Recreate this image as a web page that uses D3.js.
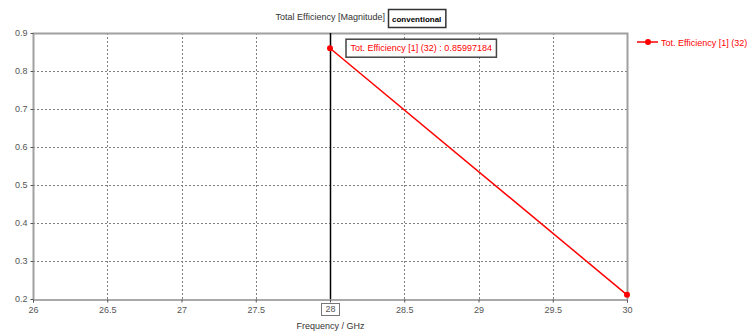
<!DOCTYPE html>
<html>
<head>
<meta charset="utf-8">
<script src="https://cdn.jsdelivr.net/npm/d3@7/dist/d3.min.js"></script>
<style>
  html, body { margin: 0; padding: 0; background: #fff; }
  svg { display: block; }
  text { font-family: "Liberation Sans", "DejaVu Sans", sans-serif; }
</style>
</head>
<body>
<svg id="chart" width="752" height="333"></svg>
<script>
// Total efficiency of the conventional design versus frequency
const frequencies = [28, 30];            // GHz
const efficiency  = [0.85997184, 0.211]; // magnitude
const xTicks = [26, 26.5, 27, 27.5, 28, 28.5, 29, 29.5, 30];
const yTicks = [0.2, 0.3, 0.4, 0.5, 0.6, 0.7, 0.8, 0.9];
const seriesName = "Tot. Efficiency [1] (32)";
const markerFreq = 28;

const svg = d3.select("#chart");
const m = { left: 33, right: 125, top: 33, bottom: 34 };
const W = 752, H = 333;
const x = d3.scaleLinear().domain([26, 30]).range([m.left, W - m.right]);
const y = d3.scaleLinear().domain([0.2, 0.9]).range([H - m.bottom, m.top]);

const red = "#ff0000";
const grey = "#555";
const fs = 9;

// grid
const grid = svg.append("g").attr("stroke", "#808080").attr("stroke-width", 1)
  .attr("stroke-dasharray", "2,2");
xTicks.slice(1, -1).forEach(t => {
  grid.append("line").attr("x1", Math.round(x(t)) + 0.5).attr("x2", Math.round(x(t)) + 0.5)
    .attr("y1", y(0.9)).attr("y2", y(0.2));
});
yTicks.slice(1, -1).forEach(t => {
  grid.append("line").attr("y1", Math.round(y(t)) + 0.5).attr("y2", Math.round(y(t)) + 0.5)
    .attr("x1", x(26)).attr("x2", x(30));
});

// frame: light on top/left/right
svg.append("path")
  .attr("d", `M${x(26)+0.5},${y(0.2)} V${y(0.9)+0.5} H${x(30)+0.5} V${y(0.2)}`)
  .attr("fill", "none").attr("stroke", "#a0a0a0").attr("stroke-width", 2);

// bottom axis
const xAxis = d3.axisBottom(x).tickValues(xTicks).tickSize(3).tickPadding(4)
  .tickFormat(d => d === markerFreq ? "" : d3.format("")(d));
const gx = svg.append("g").attr("transform", `translate(0,${Math.round(y(0.2)) + 0.5})`).call(xAxis);
gx.select(".domain").attr("stroke", grey);
gx.selectAll(".tick line").attr("stroke", grey);
gx.selectAll("text").attr("fill", grey).attr("font-size", fs);

// left axis
const yAxis = d3.axisLeft(y).tickValues(yTicks).tickSize(3).tickPadding(3)
  .tickFormat(d3.format(".1f"));
const gy = svg.append("g").attr("transform", `translate(${Math.round(x(26)) + 0.5},0)`).call(yAxis);
gy.select(".domain").remove();
gy.selectAll(".tick line").attr("stroke", grey);
gy.selectAll("text").attr("fill", grey).attr("font-size", fs);

// data line
const pts = frequencies.map((f, i) => [f, efficiency[i]]);
svg.append("path").datum(pts)
  .attr("d", d3.line().x(d => x(d[0])).y(d => y(d[1])))
  .attr("fill", "none").attr("stroke", red).attr("stroke-width", 1.5);

// marker line
const mx = Math.round(x(markerFreq)) + 0.5;
svg.append("line").attr("x1", mx).attr("x2", mx).attr("y1", y(0.9)).attr("y2", y(0.2))
  .attr("stroke", "#000").attr("stroke-width", 1.5);

svg.selectAll("circle.pt").data(pts).enter().append("circle")
  .attr("cx", d => x(d[0])).attr("cy", d => y(d[1])).attr("r", 3).attr("fill", red);

// marker value label
const lbl = svg.append("g");
const lblText = lbl.append("text").attr("x", mx + 20).attr("y", y(efficiency[0]) + 3)
  .attr("fill", red).attr("font-size", fs)
  .text(`Tot. Efficiency [1] (32) : ${efficiency[0]}`);
const bb = lblText.node().getBBox();
lbl.insert("rect", "text").attr("x", bb.x - 4.5).attr("y", bb.y - 4)
  .attr("width", bb.width + 9).attr("height", bb.height + 8)
  .attr("fill", "#fff").attr("stroke", "#444").attr("stroke-width", 1.5);

// marker frequency tag
const tag = svg.append("g");
const tagText = tag.append("text").attr("x", mx).attr("y", y(0.2) + 13)
  .attr("text-anchor", "middle").attr("fill", grey).attr("font-size", fs).text(markerFreq);
const tb = tagText.node().getBBox();
tag.insert("rect", "text").attr("x", Math.round(tb.x - 4) + 0.5).attr("y", Math.round(tb.y - 1) + 0.5)
  .attr("width", Math.round(tb.width + 8)).attr("height", Math.round(tb.height + 2))
  .attr("fill", "#fff").attr("stroke", "#777");

// titles
svg.append("text").attr("x", 385).attr("y", 20).attr("text-anchor", "end")
  .attr("fill", "#333").attr("font-size", fs).text("Total Efficiency [Magnitude]");
const badge = svg.append("g");
const bt = badge.append("text").attr("x", 392).attr("y", 22).attr("font-size", 8)
  .attr("font-weight", "bold").attr("fill", "#000").text("conventional");
const bbb = bt.node().getBBox();
badge.insert("rect", "text").attr("x", 388.5).attr("y", 9.5)
  .attr("width", bbb.width + 8).attr("height", 18)
  .attr("fill", "#fff").attr("stroke", "#333").attr("stroke-width", 1.5);

svg.append("text").attr("x", mx).attr("y", 329).attr("text-anchor", "middle")
  .attr("fill", "#333").attr("font-size", fs).text("Frequency / GHz");

// legend
const lg = svg.append("g").attr("transform", "translate(637,42)");
lg.append("line").attr("x1", 0).attr("x2", 21).attr("stroke", red).attr("stroke-width", 1.5);
lg.append("circle").attr("cx", 11).attr("r", 3).attr("fill", red);
lg.append("text").attr("x", 24).attr("y", 3.5).attr("fill", red).attr("font-size", fs).text(seriesName);
</script>
</body>
</html>
